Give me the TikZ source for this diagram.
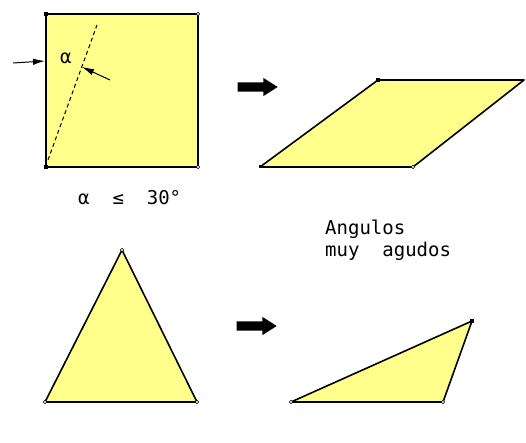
\documentclass[tikz,border=0pt]{standalone}
\usepackage{fontspec}
\newfontfamily\cadfont{DejaVu Sans Mono}
\usetikzlibrary{arrows.meta,shapes.arrows}
\definecolor{paleyellow}{RGB}{255,255,140}

\begin{document}
\begin{tikzpicture}[
    x=1pt, y=-1pt,
    face/.style={draw, fill=paleyellow, line width=1.6pt, line join=round},
    vopen/.style={circle, draw, fill=white, inner sep=0pt, minimum size=3.5pt, line width=0.6pt},
    vfull/.style={rectangle, fill=black, inner sep=0pt, minimum size=4.5pt},
    bigarr/.style={single arrow, fill=black, inner xsep=0pt, inner ysep=4.5pt, minimum height=40pt, single arrow head extend=4.5pt, single arrow tip angle=65},
    dimarr/.style={-{Latex[length=12pt,width=6.5pt]}, line width=1pt},
    lbl/.style={font=\cadfont\fontsize{19}{21}\selectfont, inner sep=0pt, anchor=base west}
]
\useasboundingbox (0,0) rectangle (526,443);
% square
\coordinate (sqa) at (46,167);
\coordinate (sqb) at (198,167);
\coordinate (sqc) at (198,14);
\coordinate (sqd) at (46,14);
\draw[face] (sqa) -- (sqb) -- (sqc) -- (sqd) -- cycle;
\coordinate (dsa) at (48,160);
\coordinate (dsb) at (97,25);
\draw[dashed, dash pattern=on 4pt off 3pt, line width=1pt] (dsa) -- (dsb);
\coordinate (lfa) at (13,63);
\coordinate (lfb) at (45,61);
\draw[dimarr] (lfa) -- (lfb);
\coordinate (rta) at (110,80);
\coordinate (rtb) at (82,67);
\draw[dimarr] (rta) -- (rtb);
\node[lbl] (alpha) at (60,64) {α};
\node[vfull] at (sqa) {};
\node[vfull] at (sqd) {};
\node[vopen] at (sqb) {};
\node[vopen] at (sqc) {};
\node[lbl] (cond) at (78,205) {α~~≤~~30°};
% parallelogram
\node[bigarr] (arra) at (254,87) {};
\coordinate (pga) at (260,167);
\coordinate (pgb) at (413,167);
\coordinate (pgc) at (524,80);
\coordinate (pgd) at (378,80);
\draw[face] (pga) -- (pgb) -- (pgc) -- (pgd) -- cycle;
\node[vfull] at (pgd) {};
\node[vfull, minimum size=3pt] at (pga) {};
\node[vopen] at (pgb) {};
\node[lbl] (ang) at (325,234) {Angulos};
\node[lbl] (agu) at (325,256) {muy~~agudos};
% triangles
\coordinate (tra) at (45,402);
\coordinate (trb) at (197,402);
\coordinate (trc) at (122,250);
\draw[face] (tra) -- (trb) -- (trc) -- cycle;
\node[vopen] at (tra) {};
\node[vopen] at (trb) {};
\node[vopen] at (trc) {};
\node[bigarr] (arrb) at (253,326) {};
\coordinate (tsa) at (291,402);
\coordinate (tsb) at (443,402);
\coordinate (tsc) at (472,321);
\draw[face] (tsa) -- (tsb) -- (tsc) -- cycle;
\node[vopen] at (tsa) {};
\node[vopen] at (tsb) {};
\node[vfull] at (tsc) {};
\end{tikzpicture}
\end{document}
